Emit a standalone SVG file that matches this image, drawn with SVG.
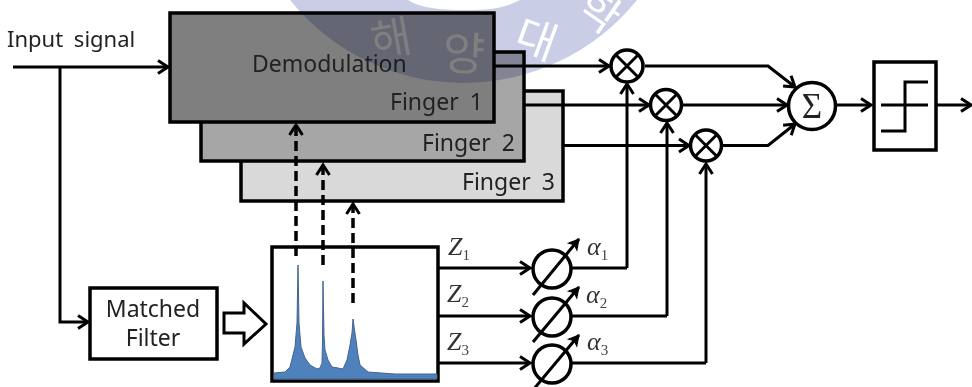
<svg xmlns="http://www.w3.org/2000/svg" width="972" height="387" viewBox="0 0 972 387">
<style>
text{font-family:"Noto Sans","Liberation Sans",sans-serif;fill:#222}
.lbl{font-size:23px;word-spacing:5px}
.m{font-family:"Liberation Serif",serif;font-style:italic;font-size:26px;fill:#333}
.s{font-family:"Liberation Serif",serif;font-style:normal;font-size:15px;fill:#444}
.box{stroke:#000;stroke-width:3.5}
.ln{fill:none;stroke:#000;stroke-width:3}
.d{stroke-width:3.5;stroke-dasharray:10 5}
.node{fill:#fff;stroke:#000;stroke-width:3.5}
.wm{font-family:"Noto Sans CJK KR",sans-serif;font-size:44px;text-anchor:middle}
</style>
<defs>
<marker id="a" markerWidth="16" markerHeight="18" refX="13" refY="9" orient="auto" markerUnits="userSpaceOnUse"><path d="M3 2.5L13 9L3 15.5" fill="none" stroke="#000" stroke-width="3"/></marker>
<marker id="b" markerWidth="14" markerHeight="14" refX="12" refY="7" orient="auto" markerUnits="userSpaceOnUse"><path d="M12 7L2 1.5L4.500 7L2 12.500Z" fill="#000" stroke="#000"/></marker>
</defs>
<rect width="972" height="387" fill="#fff"/>
<g id="finger3"><rect class="box" x="241" y="91" width="322" height="110" fill="#d9d9d9"/><text class="lbl" x="462" y="190">Finger 3</text></g>
<g id="finger2"><rect class="box" x="201" y="52" width="323" height="109" fill="#a6a6a6"/><text class="lbl" x="422" y="151">Finger 2</text></g>
<g id="finger1"><rect class="box" x="170" y="13" width="324" height="109" fill="#7f7f7f"/><text class="lbl" x="390" y="110">Finger 1</text><text class="lbl" x="252" y="72">Demodulation</text></g>
<g id="watermark">
<path d="M290 0A223 223 0 0 0 637 0Z" fill="#c9cde6" style="mix-blend-mode:multiply"/>
<path d="M408 0H520C505 8 490 10 465 10C440 10 420 8 408 0Z" fill="#fff"/>
<text class="wm" transform="translate(394 54) rotate(-10)" style="fill:#7f7f7f">해</text>
<text class="wm" transform="translate(463 70) rotate(3)" style="fill:#7f7f7f;font-size:46px">양</text>
<text class="wm" transform="translate(531 54) rotate(20)" style="fill:#fff">대</text>
<text class="wm" transform="translate(590 24) rotate(35)" style="fill:#fff">학</text>
</g>
<g id="connectors" class="ln">
<path d="M13 67H168" marker-end="url(#a)"/>
<path d="M60 67V322H88" marker-end="url(#a)"/>
<path d="M494 66H609" marker-end="url(#a)"/>
<path d="M524 105H649" marker-end="url(#a)"/>
<path d="M563 145.500H689" marker-end="url(#a)"/>
<path d="M645 66H768L795 87" marker-end="url(#a)"/>
<path d="M683 105H787" marker-end="url(#a)"/>
<path d="M723 145.500H768L795 124" marker-end="url(#a)"/>
<path d="M837 105H871" marker-end="url(#a)"/>
<path d="M937 105H971" marker-end="url(#a)"/>
<path d="M627 268V84" marker-end="url(#a)"/>
<path d="M667 316V123" marker-end="url(#a)"/>
<path d="M706 363V164" marker-end="url(#a)"/>
<path d="M438 268H530" marker-end="url(#a)"/>
<path d="M438 316H530" marker-end="url(#a)"/>
<path d="M438 363H530" marker-end="url(#a)"/>
<path d="M572 268H627"/><path d="M572 316H667"/><path d="M572 363H706"/>
</g>
<g id="matched-filter"><rect class="box" x="90" y="288" width="127" height="71" fill="#fff"/><text class="lbl" x="153" y="317" text-anchor="middle">Matched</text><text class="lbl" x="153" y="346" text-anchor="middle">Filter</text></g>
<g id="block-arrow"><path d="M224 313H244V303L266 324L244 344V333H224Z" fill="#fff" stroke="#000" stroke-width="3"/></g>
<g id="spectrum"><rect class="box" x="272" y="247" width="166" height="134" fill="#fff"/>
<path d="M274 373L285 372L290 367L295 347L297 323L298 265L299 323L301 347L305 358L310 365L317 369L320 368L322 363L322.500 340L323 281L324 335L325 350L328 360L332 367L338 368L343 369L347 360L350 345L352 333L353 319L354.500 330L356 340L358 355L360 365L368 372L395 374L437 374V379H274Z" fill="#4f81bd" stroke="#44648f" stroke-width="1"/></g>
<g id="dashed" class="ln">
<path class="d" d="M296 256V125" marker-end="url(#a)"/>
<path class="d" d="M323 265V165" marker-end="url(#a)"/>
<path class="d" d="M353 303V204" marker-end="url(#a)"/>
</g>
<g id="mul1"><circle class="node" cx="627" cy="66" r="16"/><path class="ln" d="M615 54L639 78M639 54L615 78"/></g>
<g id="mul2"><circle class="node" cx="666" cy="105" r="15.500"/><path class="ln" d="M655 94L677 116M677 94L655 116"/></g>
<g id="mul3"><circle class="node" cx="706" cy="145.500" r="15.500"/><path class="ln" d="M695 134.500L717 156.500M717 134.500L695 156.500"/></g>
<g id="sum"><circle class="node" cx="812" cy="106" r="23.500"/><text x="812" y="118" text-anchor="middle" style="font-family:'Liberation Serif',serif;font-size:35px">Σ</text></g>
<g id="limiter"><rect class="box" x="874" y="62" width="62" height="88" fill="#fff"/><path class="ln" d="M881 105H928M881 131H905V82H928"/></g>
<g id="w1"><circle class="node" cx="552" cy="269" r="19"/><path class="ln" d="M533 295L579 239" marker-end="url(#b)"/></g>
<g id="w2"><circle class="node" cx="552" cy="317" r="19"/><path class="ln" d="M533 342L579 287" marker-end="url(#b)"/></g>
<g id="w3"><circle class="node" cx="552" cy="364" r="19"/><path class="ln" d="M533 390L579 335" marker-end="url(#b)"/></g>
<g id="labels">
<text x="7" y="47" style="font-size:22px;word-spacing:5px">Input signal</text>
<text class="m" x="448" y="255">Z<tspan class="s" dy="5">1</tspan></text>
<text class="m" x="447" y="302">Z<tspan class="s" dy="5">2</tspan></text>
<text class="m" x="447" y="350">Z<tspan class="s" dy="5">3</tspan></text>
<text class="m" x="587" y="255">α<tspan class="s" dy="5">1</tspan></text>
<text class="m" x="586" y="303">α<tspan class="s" dy="5">2</tspan></text>
<text class="m" x="587" y="350">α<tspan class="s" dy="5">3</tspan></text>
</g>
</svg>
